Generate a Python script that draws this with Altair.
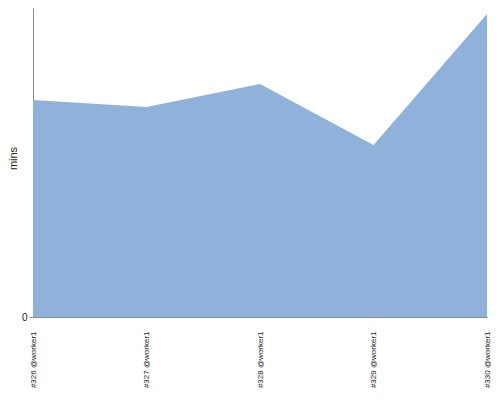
import altair as alt
import pandas as pd

builds = ["#326 @worker1", "#327 @worker1", "#328 @worker1", "#329 @worker1", "#330 @worker1"]
mins = [21.7, 21.0, 23.3, 17.2, 30.3]

df = pd.DataFrame({"build": builds, "mins": mins})

chart = alt.Chart(df).mark_area(color="#8fb1da", opacity=1).encode(
    x=alt.X("build:N", sort=builds, title=None,
            scale=alt.Scale(type="point", padding=0),
            axis=alt.Axis(labelAngle=-90, labelAlign="right", labelBaseline="middle",
                          ticks=False, labelPadding=14, labelFont="Liberation Sans",
                          labelFontSize=8, labelColor="#222", domainColor="#888",
                          grid=False, labelLimit=200)),
    y=alt.Y("mins:Q", title="mins", scale=alt.Scale(domain=[0, 30.9], nice=False),
            axis=alt.Axis(values=[0], grid=False, tickSize=4, tickColor="#888",
                          domainColor="#888", labelFont="Liberation Sans",
                          labelFontSize=10, labelColor="#222",
                          titleFont="Liberation Sans", titleFontSize=11,
                          titleFontWeight="normal", titleColor="#222",
                          titleX=-20, titleY=150, titleAngle=-90,
                          titleAlign="center", titleBaseline="middle")),
).properties(
    width=454, height=309,
    autosize=alt.AutoSizeParams(type="none"),
    padding={"top": 0, "left": 25, "right": 5, "bottom": 75},
).configure_view(stroke=None)

chart.save("out.html", embed_options={"renderer": "svg", "actions": False})
